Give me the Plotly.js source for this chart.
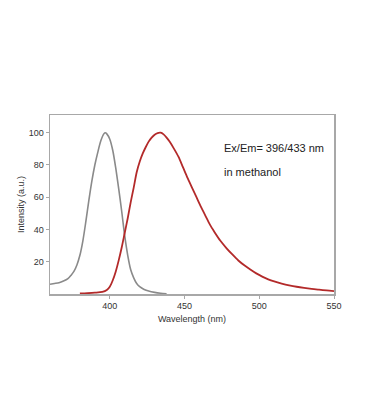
<!DOCTYPE html>
<html>
<head>
<meta charset="utf-8">
<script src="https://cdn.plot.ly/plotly-3.0.1.min.js"></script>
<style>html,body{margin:0;padding:0;background:#fff;}#chart{width:369px;height:417px;}</style>
</head>
<body>
<div id="chart"></div>
<script>
// Excitation spectrum (gray)
const exWavelength = [360,363,366,369,372,374,376,378,380,382,384,386,388,390,392,394,396,397,398,400,402,404,406,408,410,412,414,416,418,420,423,426,430,434,438];
const exIntensity  = [6,6.5,7,8,9.5,11.5,14,18,24,33,45,58,70,80,88,95,99.3,100,99.3,96,89,78,65,51,36,24,15,10,6.5,4.5,2.8,1.8,1,0.5,0.2];
// Emission spectrum (red)
const emWavelength = [380,385,390,395,398,400,402,404,406,408,410,412,414,416,418,420,422,424,426,428,430,432,434,436,438,440,443,446,449,452,455,458,461,464,467,470,474,478,482,486,490,494,498,502,506,510,515,520,525,530,535,540,545,550];
const emIntensity  = [0.3,0.5,0.8,1.3,2.5,4.5,8.5,14,21,29,38,47,57,66,75.5,82,87,91,94.5,97,98.8,99.8,100,99,97,94.5,90,85,78.5,72,66,60,54,48.5,43,38.5,33,28.5,24.5,20.8,17.8,15.2,12.8,10.8,9.1,7.8,6.5,5.4,4.5,3.8,3.2,2.7,2.2,1.8];
// Tick labels
const xTicks = [400,450,500,550];
const yTicks = [20,40,60,80,100];
const noteLines = ["Ex/Em= 396/433 nm","in methanol"];

const traces = [
  {x: exWavelength, y: exIntensity, mode:'lines', line:{color:'#8a8a8a', width:1.6, shape:'spline', smoothing:0.8}, hoverinfo:'skip'},
  {x: emWavelength, y: emIntensity, mode:'lines', line:{color:'#b32a2a', width:1.8, shape:'spline', smoothing:0.8}, hoverinfo:'skip'}
];
const font = {family:'"Liberation Sans", Arial, sans-serif', size:9, color:'#333'};
const noteFont = {family:'"Liberation Sans", Arial, sans-serif', size:11, color:'#222'};
const layout = {
  width:369, height:417,
  margin:{l:50, r:35, t:115, b:123},
  paper_bgcolor:'#fff', plot_bgcolor:'#fff',
  showlegend:false,
  font: font,
  xaxis:{range:[360,550], tickvals:xTicks, ticktext:xTicks.map(String), showgrid:false, zeroline:false,
    showline:true, mirror:true, linecolor:'#a8a8a8', linewidth:1.5, ticks:'outside', ticklen:3, tickcolor:'#a8a8a8',
    tickfont:font, title:{text:'Wavelength (nm)', font:font, standoff:5}},
  yaxis:{range:[0,111], tickvals:yTicks, ticktext:yTicks.map(String), showgrid:false, zeroline:false,
    showline:true, mirror:true, linecolor:'#a8a8a8', linewidth:1.5, ticks:'outside', ticklen:3, tickcolor:'#a8a8a8',
    tickfont:font, title:{text:'Intensity (a.u.)', font:font, standoff:2}},
  annotations:[
    {x:474.8, y:90.6, xref:'x', yref:'y', text:noteLines[0], showarrow:false, xanchor:'left', yanchor:'middle', font:noteFont},
    {x:474.8, y:75.7, xref:'x', yref:'y', text:noteLines[1], showarrow:false, xanchor:'left', yanchor:'middle', font:noteFont}
  ]
};
Plotly.newPlot('chart', traces, layout, {displayModeBar:false, staticPlot:true});
</script>
</body>
</html>
